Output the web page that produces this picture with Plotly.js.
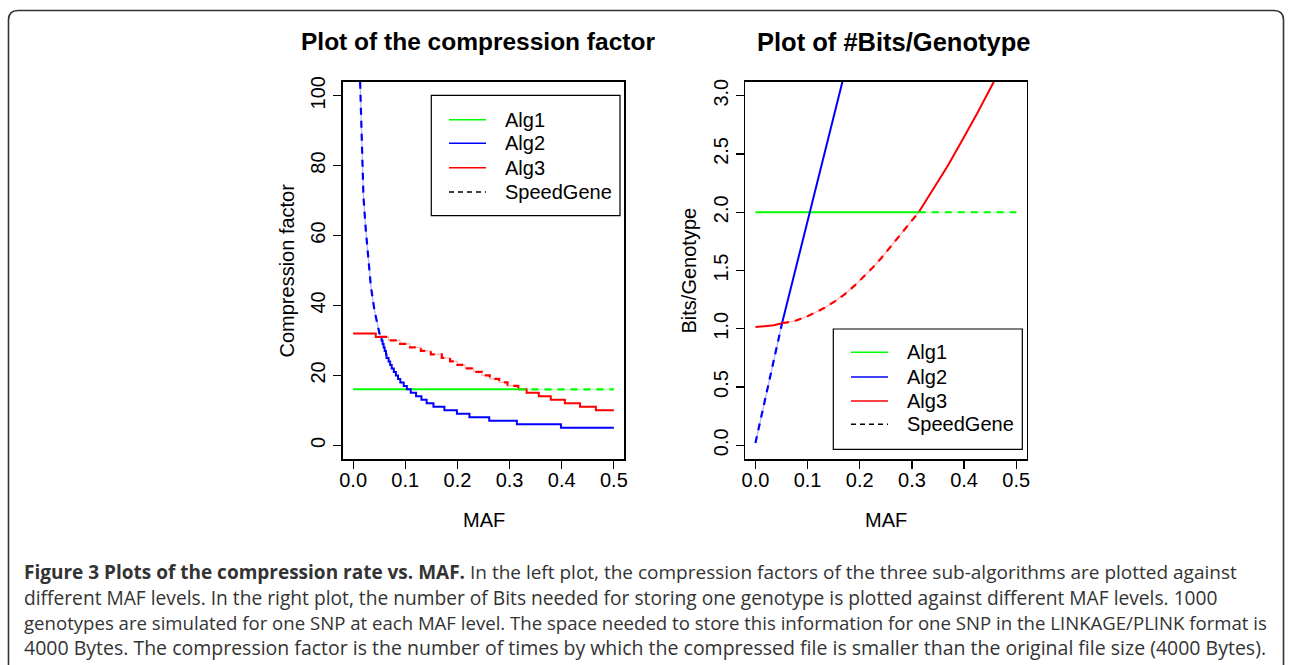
<!DOCTYPE html>
<html>
<head>
<meta charset="utf-8">
<script src="https://cdn.plot.ly/plotly-3.0.1.min.js"></script>
<style>html,body{margin:0;padding:0;background:#fff;}#chart{width:1292px;height:665px;}</style>
</head>
<body>
<div id="chart"></div>
<script>
// ---------------- DATA ----------------
// Left panel: compression factor vs MAF
const cfAlg1MAF = [0, 0.317, 0.5];
const cfAlg1 = [16, 16, 16];
// Alg2 smooth part (low MAF), then its step part
const cfAlg2CurveMAF = [0.0134, 0.0166, 0.0198, 0.0243, 0.0281, 0.034, 0.041, 0.0466, 0.052];
const cfAlg2Curve = [104, 85.3, 71.1, 61.6, 54.4, 45.5, 38.5, 34.5, 31];
const cfAlg2StepMAF = [0.052, 0.0545, 0.0565, 0.0585, 0.0605, 0.063, 0.064, 0.068, 0.071, 0.074, 0.078, 0.082, 0.086, 0.0905, 0.097, 0.103, 0.1105, 0.1207, 0.131, 0.141, 0.154, 0.175, 0.199, 0.223, 0.261, 0.314, 0.3985, 0.5];
const cfAlg2Step = [31, 30, 29, 28, 27, 26, 25, 24, 23, 22, 21, 20, 19, 18, 17, 16, 15, 14, 13, 12, 11, 10, 9, 8, 7, 6, 5, 5];
const cfAlg3StepMAF = [0, 0.0434, 0.0677, 0.090, 0.109, 0.130, 0.149, 0.170, 0.186, 0.200, 0.215, 0.231, 0.247, 0.262, 0.280, 0.296, 0.3167, 0.3327, 0.356, 0.379, 0.406, 0.435, 0.4655, 0.5];
const cfAlg3Step = [32, 31, 30, 29, 28, 27, 26, 25, 24, 23, 22, 21, 20, 19, 18, 17, 16, 15, 14, 13, 12, 11, 10, 10];
const cfSwitch = [0.052, 0.317];   // SpeedGene: Alg2 -> Alg3 -> Alg1

// Right panel: bits per genotype vs MAF
const bgAlg1MAF = [0, 0.313, 0.5];
const bgAlg1 = [2, 2, 2];
const bgAlg2MAF = [0, 0.051, 0.104, 0.1667];
const bgAlg2 = [0.02, 1.048, 2.0, 3.12];
const bgAlg3MAF = [0, 0.02, 0.035, 0.051, 0.075, 0.1008, 0.1328, 0.152, 0.171, 0.190, 0.209, 0.225, 0.241, 0.2605, 0.283, 0.313, 0.340, 0.369, 0.398, 0.4265, 0.457];
const bgAlg3 = [1.015, 1.02, 1.03, 1.048, 1.065, 1.11, 1.18, 1.235, 1.296, 1.37, 1.45, 1.525, 1.605, 1.71, 1.83, 2.0, 2.19, 2.40, 2.63, 2.86, 3.12];
const bgSwitch = [0.051, 0.313];   // SpeedGene: Alg2 -> Alg3 -> Alg1

const xTicks = [0, 0.1, 0.2, 0.3, 0.4, 0.5];
const xTickText = ['0.0', '0.1', '0.2', '0.3', '0.4', '0.5'];
const cfTicks = [0, 20, 40, 60, 80, 100];
const bgTicks = [0, 0.5, 1, 1.5, 2, 2.5, 3];
const bgTickText = ['0.0', '0.5', '1.0', '1.5', '2.0', '2.5', '3.0'];
const legendNames = ['Alg1', 'Alg2', 'Alg3', 'SpeedGene'];
const titles = ['Plot of the compression factor', 'Plot of #Bits/Genotype'];
const yTitles = ['Compression factor', 'Bits/Genotype'];
const xTitle = 'MAF';
const captionLines = [
  '<b>Figure 3 Plots of the compression rate vs. MAF.</b> In the left plot, the compression factors of the three sub-algorithms are plotted against',
  'different MAF levels. In the right plot, the number of Bits needed for storing one genotype is plotted against different MAF levels. 1000',
  'genotypes are simulated for one SNP at each MAF level. The space needed to store this information for one SNP in the LINKAGE/PLINK format is',
  '4000 Bytes. The compression factor is the number of times by which the compressed file is smaller than the original file size (4000 Bytes).'
];

// ---------------- helpers ----------------
const W = 1292, H = 665;
const px = v => v / W;
const py = v => 1 - v / H;
const FONT = 'Liberation Sans, Arial, Helvetica, sans-serif';
const GREEN = '#00ff00', BLUE = '#0000ff', RED = '#ff0000';
const DASH = '7px,6px';

function seg(xs, ys, a, b) {            // linear series, split points are in the data
  const x = [], y = [];
  xs.forEach((v, i) => { if (v >= a - 1e-9 && v <= b + 1e-9) { x.push(v); y.push(ys[i]); } });
  return {x, y};
}
function stepVal(xs, ys, a) {
  let v = ys[0];
  for (let i = 0; i < xs.length; i++) if (xs[i] <= a + 1e-9) v = ys[i];
  return v;
}
function stepSeg(xs, ys, a, b) {        // step series (hv)
  const x = [a], y = [stepVal(xs, ys, a)];
  xs.forEach((v, i) => { if (v > a + 1e-9 && v < b - 1e-9) { x.push(v); y.push(ys[i]); } });
  x.push(b); y.push(y[y.length - 1]);
  return {x, y};
}
function tr(d, color, opts) {
  opts = opts || {};
  return {
    type: 'scatter', mode: 'lines', x: d.x, y: d.y,
    xaxis: opts.xa || 'x', yaxis: opts.ya || 'y',
    line: {color: color, width: opts.width || 2, dash: opts.dash || 'solid', shape: opts.shape || 'linear'},
    opacity: opts.opacity == null ? 1 : opts.opacity,
    name: opts.name || '', showlegend: false, hoverinfo: 'skip'
  };
}

const traces = [];
// ---- left panel ----
const L = {xa: 'x', ya: 'y'};
const s0 = cfSwitch[0], s1 = cfSwitch[1];
traces.push(tr(seg(cfAlg1MAF, cfAlg1, 0, s1), GREEN, Object.assign({name: legendNames[0]}, L)));
traces.push(tr(stepSeg(cfAlg2StepMAF, cfAlg2Step, s0, 0.5), BLUE, Object.assign({name: legendNames[1], shape: 'hv'}, L)));
traces.push(tr(stepSeg(cfAlg3StepMAF, cfAlg3Step, 0, s0), RED, Object.assign({name: legendNames[2], shape: 'hv'}, L)));
traces.push(tr(stepSeg(cfAlg3StepMAF, cfAlg3Step, s1, 0.5), RED, Object.assign({name: legendNames[2], shape: 'hv'}, L)));
// faint underlines below the SpeedGene parts
traces.push(tr(seg(cfAlg2CurveMAF, cfAlg2Curve, 0, s0), BLUE, Object.assign({width: 1.2, opacity: 0.3}, L)));
traces.push(tr(stepSeg(cfAlg3StepMAF, cfAlg3Step, s0, s1), RED, Object.assign({width: 1.2, opacity: 0.3, shape: 'hv'}, L)));
traces.push(tr(seg(cfAlg1MAF, cfAlg1, s1, 0.5), GREEN, Object.assign({width: 1.2, opacity: 0.3}, L)));
// SpeedGene dashed
traces.push(tr(seg(cfAlg2CurveMAF, cfAlg2Curve, 0, s0), BLUE, Object.assign({name: legendNames[3], dash: DASH, width: 2.2}, L)));
traces.push(tr(stepSeg(cfAlg3StepMAF, cfAlg3Step, s0, s1), RED, Object.assign({name: legendNames[3], dash: DASH, width: 2.2, shape: 'hv'}, L)));
traces.push(tr(seg(cfAlg1MAF, cfAlg1, s1, 0.5), GREEN, Object.assign({name: legendNames[3], dash: DASH, width: 2.2}, L)));

// ---- right panel ----
const R = {xa: 'x2', ya: 'y2'};
const r0 = bgSwitch[0], r1 = bgSwitch[1];
traces.push(tr(seg(bgAlg1MAF, bgAlg1, 0, r1), GREEN, Object.assign({name: legendNames[0]}, R)));
traces.push(tr(seg(bgAlg2MAF, bgAlg2, r0, 1), BLUE, Object.assign({name: legendNames[1]}, R)));
traces.push(tr(seg(bgAlg3MAF, bgAlg3, 0, r0), RED, Object.assign({name: legendNames[2]}, R)));
traces.push(tr(seg(bgAlg3MAF, bgAlg3, r1, 1), RED, Object.assign({name: legendNames[2]}, R)));
traces.push(tr(seg(bgAlg2MAF, bgAlg2, 0, r0), BLUE, Object.assign({width: 1.2, opacity: 0.3}, R)));
traces.push(tr(seg(bgAlg3MAF, bgAlg3, r0, r1), RED, Object.assign({width: 1.2, opacity: 0.3}, R)));
traces.push(tr(seg(bgAlg1MAF, bgAlg1, r1, 0.5), GREEN, Object.assign({width: 1.2, opacity: 0.3}, R)));
traces.push(tr(seg(bgAlg2MAF, bgAlg2, 0, r0), BLUE, Object.assign({name: legendNames[3], dash: DASH, width: 2.2}, R)));
traces.push(tr(seg(bgAlg3MAF, bgAlg3, r0, r1), RED, Object.assign({name: legendNames[3], dash: DASH, width: 2.2}, R)));
traces.push(tr(seg(bgAlg1MAF, bgAlg1, r1, 0.5), GREEN, Object.assign({name: legendNames[3], dash: DASH, width: 2.2}, R)));

// ---------------- layout ----------------
const yDom = [py(459.3), py(81.7)];
function xAxis(domain, anchor) {
  return {
    domain: domain, anchor: anchor, range: [-0.02, 0.52],
    tickvals: xTicks, ticktext: xTickText, ticks: 'outside', ticklen: 8, tickwidth: 1.2, tickcolor: '#000',
    ticklabelstandoff: -6,
    showline: true, linecolor: '#000', linewidth: 1.4, mirror: true,
    showgrid: false, zeroline: false, fixedrange: true,
    tickfont: {family: FONT, size: 20, color: '#000'}
  };
}
function yAxis(anchor, range, tv, tt) {
  return {
    domain: yDom, anchor: anchor, range: range,
    tickvals: tv, ticktext: tt, ticks: 'outside', ticklen: 8, tickwidth: 1.2, tickcolor: '#000', tickangle: -90,
    showline: true, linecolor: '#000', linewidth: 1.4, mirror: true,
    showgrid: false, zeroline: false, fixedrange: true,
    tickfont: {family: FONT, size: 20, color: '#000'}
  };
}
const ann = [];
function txt(text, x, y, size, opts) {
  opts = opts || {};
  ann.push(Object.assign({
    text: text, x: px(x), y: py(y), xref: 'paper', yref: 'paper', showarrow: false,
    xanchor: 'center', yanchor: 'middle',
    font: {family: FONT, size: size, color: '#000'}
  }, opts));
}
txt('<b>' + titles[0] + '</b>', 478, 42, 24.5);
txt('<b>' + titles[1] + '</b>', 893, 42, 25.5);
txt(xTitle, 483.5, 520, 20);
txt(xTitle, 886, 520, 20);
txt(yTitles[0], 286, 270.5, 20, {textangle: -90});
txt(yTitles[1], 688, 270.5, 20, {textangle: -90});
const capSizes = [19.0, 19.2, 18.6, 19.5];
captionLines.forEach((t, i) => {
  txt(t, 22, 572 + i * 25, capSizes[i], {xanchor: 'left', font: {family: 'Open Sans, Noto Sans, sans-serif', size: capSizes[i], color: '#333'}});
});

const shapes = [
  // outer rounded frame
  {type: 'path', xref: 'paper', yref: 'paper',
   path: 'M ' + px(8.5) + ',' + py(700) + ' L ' + px(8.5) + ',' + py(20) +
         ' Q ' + px(8.5) + ',' + py(10.5) + ' ' + px(18) + ',' + py(10.5) +
         ' L ' + px(1274) + ',' + py(10.5) +
         ' Q ' + px(1283.5) + ',' + py(10.5) + ' ' + px(1283.5) + ',' + py(20) +
         ' L ' + px(1283.5) + ',' + py(700),
   line: {color: '#333', width: 1.6}},
  // legend boxes
  {type: 'rect', xref: 'paper', yref: 'paper', x0: px(431.3), x1: px(620), y0: py(215.7), y1: py(95.3), line: {color: '#000', width: 1.2}},
  {type: 'rect', xref: 'paper', yref: 'paper', x0: px(833.3), x1: px(1022.3), y0: py(449.3), y1: py(329), line: {color: '#000', width: 1.2}}
];
// legend keys (samples + labels)
const legendColors = [GREEN, BLUE, RED, '#000'];
function legend(x0, x1, tx, ys) {
  legendNames.forEach((n, i) => {
    shapes.push({type: 'line', xref: 'paper', yref: 'paper', x0: px(x0), x1: px(x1), y0: py(ys[i]), y1: py(ys[i]),
      line: {color: legendColors[i], width: 1.6, dash: i === 3 ? '5px,4px' : 'solid'}});
    txt(n, tx, ys[i], 20, {xanchor: 'left'});
  });
}
legend(449, 486, 503, [119.7, 143.3, 167.7, 192]);
legend(851, 888, 905, [352.3, 377, 401, 424.3]);

const layout = {
  width: W, height: H, margin: {l: 0, r: 0, t: 0, b: 0, pad: 0},
  paper_bgcolor: '#fff', plot_bgcolor: '#fff',
  xaxis: xAxis([px(342.7), px(624.3)], 'y'),
  yaxis: yAxis('x', [-4, 104], cfTicks, cfTicks.map(String)),
  xaxis2: xAxis([px(745), px(1026.7)], 'y2'),
  yaxis2: yAxis('x2', [-0.12, 3.12], bgTicks, bgTickText),
  annotations: ann, shapes: shapes, showlegend: false,
  font: {family: FONT}
};
Plotly.newPlot('chart', traces, layout, {displayModeBar: false, staticPlot: true});
</script>
</body>
</html>
